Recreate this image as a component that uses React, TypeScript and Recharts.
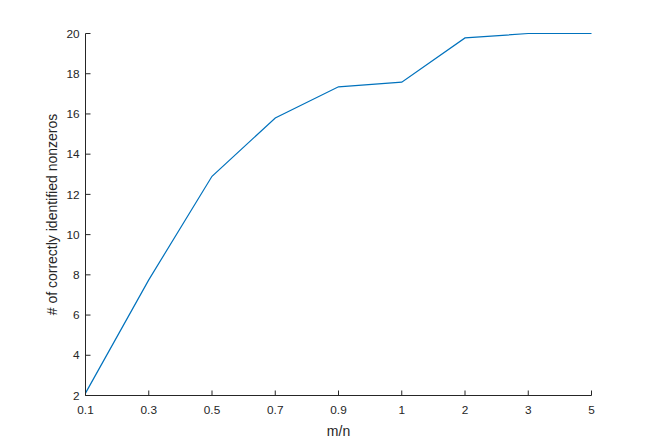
import React from 'react';
import { LineChart, Line, XAxis, YAxis, Label } from 'recharts';

const ratios = ['0.1', '0.3', '0.5', '0.7', '0.9', '1', '2', '3', '5'];
const nonzeros = [2.12, 7.75, 12.9, 15.8, 17.35, 17.58, 19.78, 20, 20];
const yTicks = [2, 4, 6, 8, 10, 12, 14, 16, 18, 20];

const data = ratios.map((m, i) => ({ m, found: nonzeros[i] }));

const AXIS = '#262626';
const FONT = '"Liberation Sans", Arial, Helvetica, sans-serif';
const TICK_LEN = 5;

// MATLAB-style ticks: short inward marks, labels outside the box
const makeTick = (side: 'bottom' | 'top' | 'left' | 'right') => (props: any) => {
  const { x, y, payload } = props;
  if (side === 'bottom') {
    return (
      <g>
        <line x1={x} y1={y} x2={x} y2={y - TICK_LEN} stroke={AXIS} />
        <text x={x} y={y + 18.5} textAnchor="middle" fill={AXIS} fontSize={11.8} fontFamily={FONT}>
          {payload.value}
        </text>
      </g>
    );
  }
  if (side === 'top') {
    return <line x1={x} y1={y} x2={x} y2={y + TICK_LEN} stroke={AXIS} />;
  }
  if (side === 'left') {
    return (
      <g>
        <line x1={x} y1={y} x2={x + TICK_LEN} y2={y} stroke={AXIS} />
        <text x={x - 6} y={y + 4.2} textAnchor="end" fill={AXIS} fontSize={11.8} fontFamily={FONT}>
          {payload.value}
        </text>
      </g>
    );
  }
  return <line x1={x} y1={y} x2={x - TICK_LEN} y2={y} stroke={AXIS} />;
};

export default function App() {
  return (
    <div style={{ position: 'absolute', left: 0, top: 0, background: '#fff' }}>
      <LineChart width={654} height={445} data={data} margin={{ top: 33.5, right: 62.5, left: 0, bottom: 0 }}>
        <XAxis
          dataKey="m"
          xAxisId="bottom"
          scale="point"
          padding={{ left: 0, right: 0 }}
          height={49.5}
          tickSize={0}
          tickMargin={0}
          tickLine={false}
          interval={0}
          axisLine={{ stroke: AXIS }}
          tick={makeTick('bottom')}
        >
          <Label value="m/n" position="center" dy={11} fill={AXIS} fontSize={14} fontFamily={FONT} />
        </XAxis>
        <XAxis
          dataKey="m"
          xAxisId="top"
          orientation="top"
          scale="point"
          padding={{ left: 0, right: 0 }}
          height={0}
          tickSize={0}
          tickMargin={0}
          tickLine={false}
          interval={0}
          axisLine={{ stroke: AXIS }}
          tick={makeTick('top')}
        />
        <YAxis
          yAxisId="left"
          domain={[2, 20]}
          ticks={yTicks}
          width={85.5}
          tickSize={0}
          tickMargin={0}
          tickLine={false}
          interval={0}
          axisLine={{ stroke: AXIS }}
          tick={makeTick('left')}
        >
          <Label
            value="# of correctly identified nonzeros"
            angle={-90}
            position="center"
            dx={9}
            fill={AXIS}
            fontSize={14}
            fontFamily={FONT}
          />
        </YAxis>
        <YAxis
          yAxisId="right"
          orientation="right"
          domain={[2, 20]}
          ticks={yTicks}
          width={0}
          tickSize={0}
          tickMargin={0}
          tickLine={false}
          interval={0}
          axisLine={{ stroke: AXIS }}
          tick={makeTick('right')}
        />
        <Line
          xAxisId="bottom"
          yAxisId="left"
          type="linear"
          dataKey="found"
          stroke="#0072BD"
          strokeWidth={1.2}
          dot={false}
          isAnimationActive={false}
        />
      </LineChart>
    </div>
  );
}
